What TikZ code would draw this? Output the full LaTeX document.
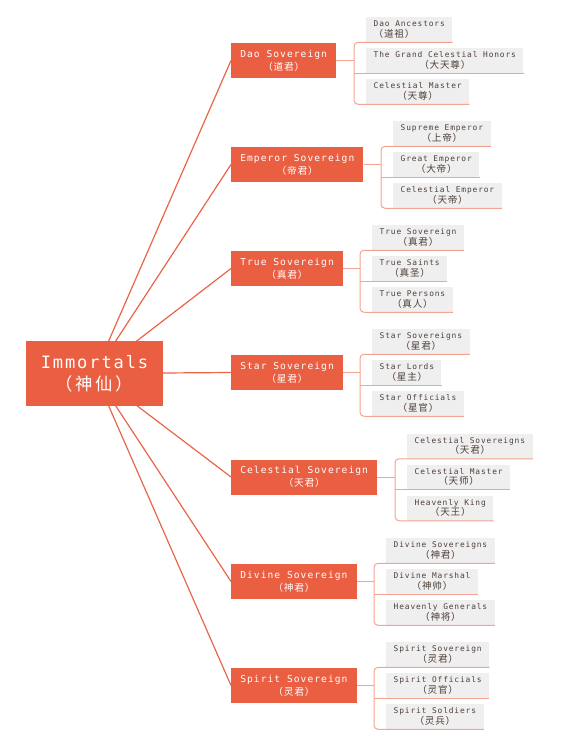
\documentclass[tikz,border=0pt]{standalone}
\usepackage{fontspec}
\usepackage{xcolor}
\usetikzlibrary{calc,backgrounds}
\newfontfamily\latf[LetterSpace=11]{DejaVu Sans Mono}
\newfontfamily\cjkf[LetterSpace=8]{Noto Sans CJK SC}
\newfontfamily\cjkwide[LetterSpace=15]{Noto Sans CJK SC}
\definecolor{NodeRed}{HTML}{EA5F42}
\definecolor{LineRed}{HTML}{EA6548}
\definecolor{BranchPink}{HTML}{F3A391}
\definecolor{LeafGray}{HTML}{EFEFEF}
\definecolor{LeafText}{HTML}{4F4039}
\def\zhsz{7.4pt}
\newcommand{\duo}[2]{{\latf #1}\\{\cjkf\fontsize{\zhsz}{\zhsz}\selectfont （#2）}}

\begin{document}
\begin{tikzpicture}[x=0.75pt,y=-0.75pt,
          root/.style={fill=NodeRed,text=white,align=center,inner sep=0pt,
            minimum width=102.75pt,minimum height=48.75pt,
            font=\fontsize{12.8pt}{16.5pt}\selectfont},
          sov/.style={fill=NodeRed,text=white,align=center,anchor=west,
            minimum height=26.25pt,inner xsep=6.75pt,inner ysep=0pt,
            font=\fontsize{7.2pt}{10pt}\selectfont\def\zhsz{7.3pt}},
          leaf/.style={fill=LeafGray,text=LeafText,align=center,anchor=west,
            minimum height=18.75pt,inner xsep=5.6pt,inner ysep=0pt,
            font=\fontsize{5.9pt}{8pt}\selectfont\def\zhsz{7.2pt}},
          trunk/.style={LineRed,line width=0.9pt},
          br/.style={BranchPink,line width=0.75pt,rounded corners=3pt}]
        \useasboundingbox (0,0) rectangle (560,748);
        % root
        \node[root] (root) at (94.5,373.5)
        {{\latf Immortals}\\{\cjkwide\fontsize{13pt}{13pt}\selectfont （神仙）}};
        % sovereigns
        \node[sov] (dao) at (231,60.5)  {\duo{Dao Sovereign}{道君}};
        \node[sov] (emp) at (231,164.5) {\duo{Emperor Sovereign}{帝君}};
        \node[sov] (tru) at (231,268.5) {\duo{True Sovereign}{真君}};
        \node[sov] (sta) at (231,372.5) {\duo{Star Sovereign}{星君}};
        \node[sov] (cel) at (231,477)   {\duo{Celestial Sovereign}{天君}};
        \node[sov] (div) at (231,581.5) {\duo{Divine Sovereign}{神君}};
        \node[sov] (spi) at (231,685.5) {\duo{Spirit Sovereign}{灵君}};
        \begin{scope}[on background layer]
          \draw[trunk] (root.center) -- (dao.west); \draw[trunk] (root.center) -- (emp.west);
          \draw[trunk] (root.center) -- (tru.west); \draw[trunk] (root.center) -- (sta.west);
          \draw[trunk] (root.center) -- (cel.west); \draw[trunk] (root.center) -- (div.west);
          \draw[trunk] (root.center) -- (spi.west);
        \end{scope}
        % Dao
        \node[leaf,align=left] (dao1) at (366,29.5) {\duo{Dao Ancestors}{道祖}};
        \node[leaf] (dao2) at (366,60.5) {\duo{The Grand Celestial Honors}{大天尊}};
        \node[leaf] (dao3) at (366,91.5) {\duo{Celestial Master}{天尊}};
        \draw[br] (dao1.south east) -- (dao1.south west) -- ++(-12,0) |- (dao3.south east);
        \draw[br] (dao2.south east) -- (dao2.south west) -- ++(-12,0);
        \draw[br] (dao.east) -- ($(dao2.west)+(-12,0)$);
        % Emperor
        \node[leaf] (emp1) at (393,133.5) {\duo{Supreme Emperor}{上帝}};
        \node[leaf] (emp2) at (393,164.5) {\duo{Great Emperor}{大帝}};
        \node[leaf] (emp3) at (393,195.5) {\duo{Celestial Emperor}{天帝}};
        \draw[br] (emp1.south east) -- (emp1.south west) -- ++(-12,0) |- (emp3.south east);
        \draw[br] (emp2.south east) -- (emp2.south west) -- ++(-12,0);
        \draw[br] (emp.east) -- ($(emp2.west)+(-12,0)$);
        % True
        \node[leaf] (tru1) at (372,237.5) {\duo{True Sovereign}{真君}};
        \node[leaf] (tru2) at (372,268.5) {\duo{True Saints}{真圣}};
        \node[leaf] (tru3) at (372,299.5) {\duo{True Persons}{真人}};
        \draw[br] (tru1.south east) -- (tru1.south west) -- ++(-12,0) |- (tru3.south east);
        \draw[br] (tru2.south east) -- (tru2.south west) -- ++(-12,0);
        \draw[br] (tru.east) -- ($(tru2.west)+(-12,0)$);
        % Star
        \node[leaf] (sta1) at (372,341.5) {\duo{Star Sovereigns}{星君}};
        \node[leaf] (sta2) at (372,372.5) {\duo{Star Lords}{星主}};
        \node[leaf] (sta3) at (372,403.5) {\duo{Star Officials}{星官}};
        \draw[br] (sta1.south east) -- (sta1.south west) -- ++(-12,0) |- (sta3.south east);
        \draw[br] (sta2.south east) -- (sta2.south west) -- ++(-12,0);
        \draw[br] (sta.east) -- ($(sta2.west)+(-12,0)$);
        % Celestial
        \node[leaf] (cel1) at (407,446) {\duo{Celestial Sovereigns}{天君}};
        \node[leaf] (cel2) at (407,477) {\duo{Celestial Master}{天师}};
        \node[leaf] (cel3) at (407,508) {\duo{Heavenly King}{天王}};
        \draw[br] (cel1.south east) -- (cel1.south west) -- ++(-12,0) |- (cel3.south east);
        \draw[br] (cel2.south east) -- (cel2.south west) -- ++(-12,0);
        \draw[br] (cel.east) -- ($(cel2.west)+(-12,0)$);
        % Divine
        \node[leaf] (div1) at (386,550.5) {\duo{Divine Sovereigns}{神君}};
        \node[leaf] (div2) at (386,581.5) {\duo{Divine Marshal}{神帅}};
        \node[leaf] (div3) at (386,612.5) {\duo{Heavenly Generals}{神将}};
        \draw[br] (div1.south east) -- (div1.south west) -- ++(-12,0) |- (div3.south east);
        \draw[br] (div2.south east) -- (div2.south west) -- ++(-12,0);
        \draw[br] (div.east) -- ($(div2.west)+(-12,0)$);
        % Spirit
        \node[leaf] (spi1) at (386,654.5) {\duo{Spirit Sovereign}{灵君}};
        \node[leaf] (spi2) at (386,685.5) {\duo{Spirit Officials}{灵官}};
        \node[leaf] (spi3) at (386,716.5) {\duo{Spirit Soldiers}{灵兵}};
        \draw[br] (spi1.south east) -- (spi1.south west) -- ++(-12,0) |- (spi3.south east);
        \draw[br] (spi2.south east) -- (spi2.south west) -- ++(-12,0);
        \draw[br] (spi.east) -- ($(spi2.west)+(-12,0)$);
      \end{tikzpicture}
\end{document}
